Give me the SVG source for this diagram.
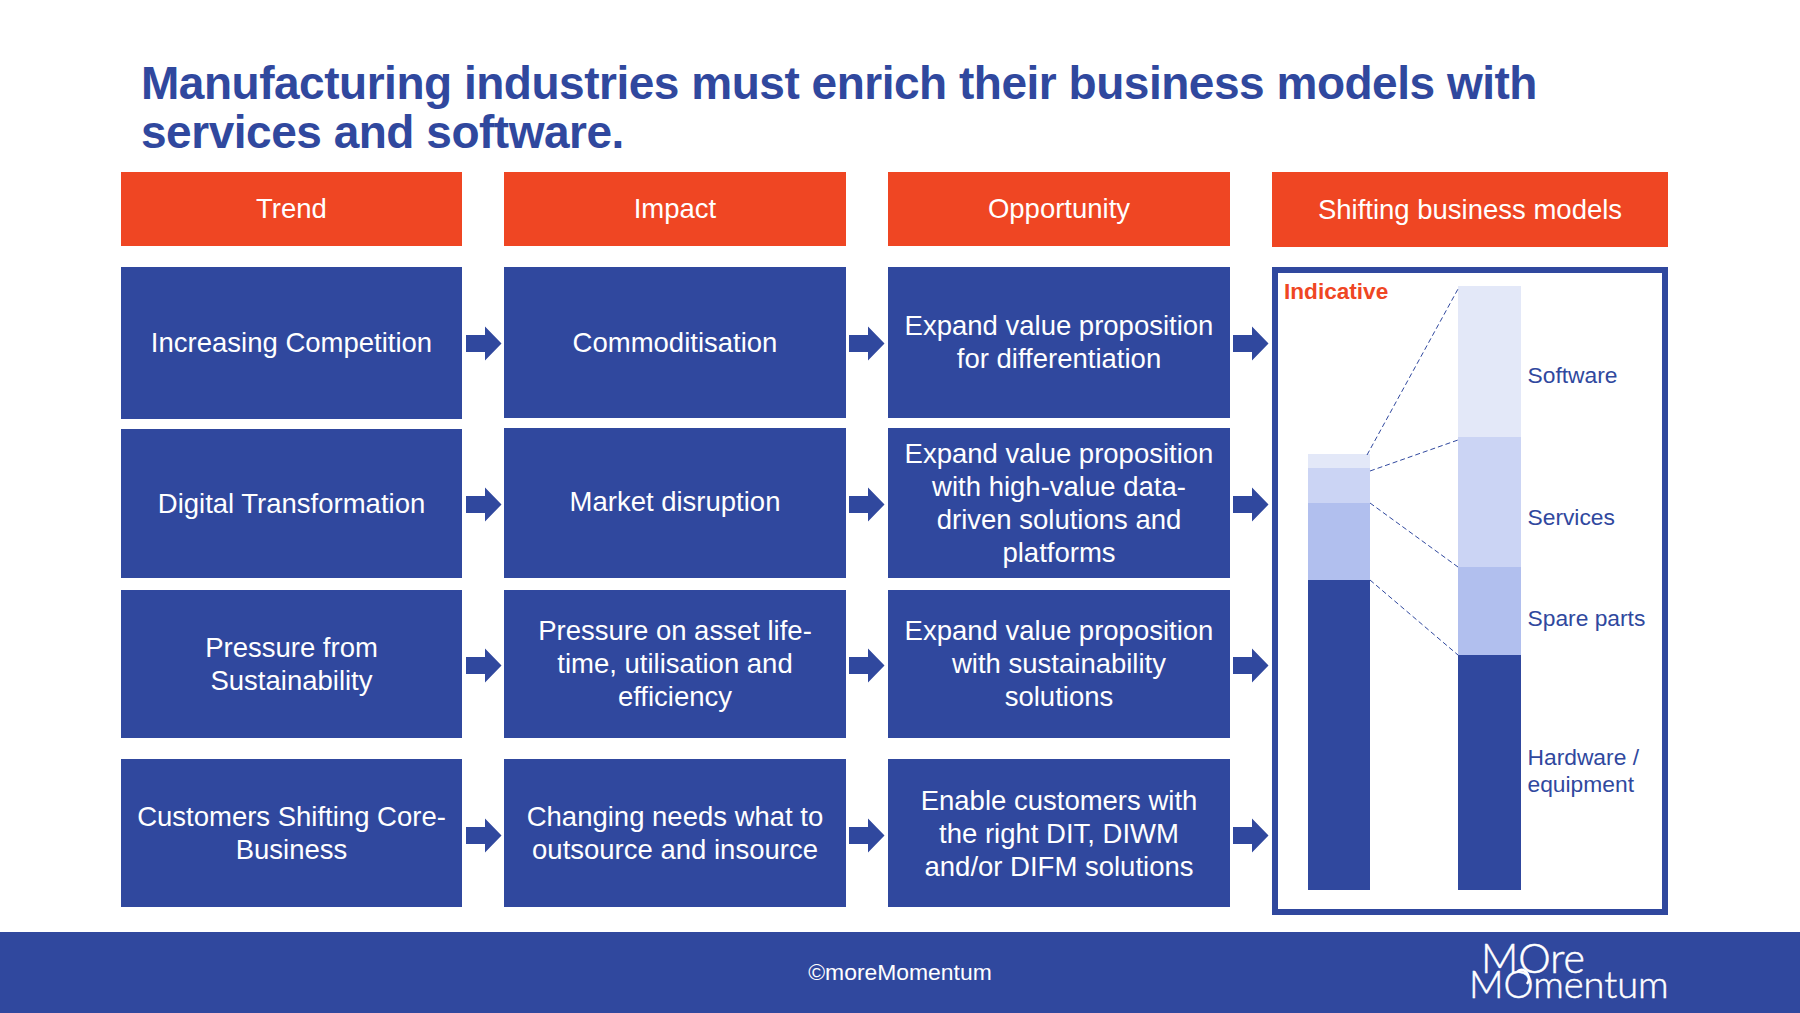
<svg xmlns="http://www.w3.org/2000/svg" width="1800" height="1013" viewBox="0 0 1800 1013">
<style>
text{font-family:"Liberation Sans",Arial,sans-serif}
.h{fill:#ef4623}.b{fill:#30489e}
.t{fill:#fff;font-size:27.5px;text-anchor:middle}
.l{fill:#30489e;font-size:22.8px}
.d{fill:none;stroke:#30489e;stroke-width:1;stroke-dasharray:5 3}
</style>
<defs><path id="a" d="M0 -8.500H19V-17L35.500 0L19 17V8.500H0Z" fill="#30489e"/></defs>
<rect width="1800" height="1013" fill="#fff"/>
<text font-size="46" font-weight="700" fill="#30489e" letter-spacing="-.48"><tspan x="141" y="99">Manufacturing industries must enrich their business models with</tspan><tspan x="141" y="148">services and software.</tspan></text>
<g id="h1"><rect class="h" x="121" y="172" width="341" height="74"/><text class="t" x="291.500" y="218">Trend</text></g>
<g id="h2"><rect class="h" x="504" y="172" width="342" height="74"/><text class="t" x="675" y="218">Impact</text></g>
<g id="h3"><rect class="h" x="888" y="172" width="342" height="74"/><text class="t" x="1059" y="218">Opportunity</text></g>
<g id="h4"><rect class="h" x="1272" y="172" width="396" height="75"/><text class="t" x="1470" y="219">Shifting business models</text></g>
<g id="r1c1"><rect class="b" x="121" y="267" width="341" height="152"/><text class="t" x="291.500" y="352">Increasing Competition</text></g>
<g id="r2c1"><rect class="b" x="121" y="429" width="341" height="149"/><text class="t" x="291.500" y="513">Digital Transformation</text></g>
<g id="r3c1"><rect class="b" x="121" y="590" width="341" height="148"/><text class="t"><tspan x="291.500" y="657">Pressure from</tspan><tspan x="291.500" y="690">Sustainability</tspan></text></g>
<g id="r4c1"><rect class="b" x="121" y="759" width="341" height="148"/><text class="t"><tspan x="291.500" y="826">Customers Shifting Core-</tspan><tspan x="291.500" y="859">Business</tspan></text></g>
<g id="r1c2"><rect class="b" x="504" y="267" width="342" height="151"/><text class="t" x="675" y="352">Commoditisation</text></g>
<g id="r2c2"><rect class="b" x="504" y="428" width="342" height="150"/><text class="t" x="675" y="511">Market disruption</text></g>
<g id="r3c2"><rect class="b" x="504" y="590" width="342" height="148"/><text class="t"><tspan x="675" y="640">Pressure on asset life-</tspan><tspan x="675" y="673">time, utilisation and</tspan><tspan x="675" y="706">efficiency</tspan></text></g>
<g id="r4c2"><rect class="b" x="504" y="759" width="342" height="148"/><text class="t"><tspan x="675" y="826">Changing needs what to</tspan><tspan x="675" y="859">outsource and insource</tspan></text></g>
<g id="r1c3"><rect class="b" x="888" y="267" width="342" height="151"/><text class="t"><tspan x="1059" y="335">Expand value proposition</tspan><tspan x="1059" y="368">for differentiation</tspan></text></g>
<g id="r2c3"><rect class="b" x="888" y="428" width="342" height="150"/><text class="t"><tspan x="1059" y="463">Expand value proposition</tspan><tspan x="1059" y="496">with high-value data-</tspan><tspan x="1059" y="529">driven solutions and</tspan><tspan x="1059" y="562">platforms</tspan></text></g>
<g id="r3c3"><rect class="b" x="888" y="590" width="342" height="148"/><text class="t"><tspan x="1059" y="640">Expand value proposition</tspan><tspan x="1059" y="673">with sustainability</tspan><tspan x="1059" y="706">solutions</tspan></text></g>
<g id="r4c3"><rect class="b" x="888" y="759" width="342" height="148"/><text class="t"><tspan x="1059" y="810">Enable customers with</tspan><tspan x="1059" y="843">the right DIT, DIWM</tspan><tspan x="1059" y="876">and/or DIFM solutions</tspan></text></g>
<g id="panel"><rect x="1275" y="270" width="390" height="642" fill="#fff" stroke="#30489e" stroke-width="6"/>
<text x="1284" y="299" font-size="22.6" font-weight="700" fill="#ef4623">Indicative</text></g>
<g id="bar-left"><rect x="1308" y="454" width="62" height="14" fill="#e3e8f8"/><rect x="1308" y="468" width="62" height="35" fill="#cbd4f4"/><rect x="1308" y="503" width="62" height="77" fill="#b1bfee"/><rect class="b" x="1308" y="580" width="62" height="310"/></g>
<g id="bar-right"><rect x="1458" y="286" width="63" height="151" fill="#e3e8f8"/><rect x="1458" y="437" width="63" height="130" fill="#cbd4f4"/><rect x="1458" y="567" width="63" height="88" fill="#b1bfee"/><rect class="b" x="1458" y="655" width="63" height="235"/></g>
<g id="connectors">
<use href="#a" x="466" y="343.500"/><use href="#a" x="849" y="343.500"/><use href="#a" x="1233" y="343.500"/>
<use href="#a" x="466" y="504.500"/><use href="#a" x="849" y="504.500"/><use href="#a" x="1233" y="504.500"/>
<use href="#a" x="466" y="665.500"/><use href="#a" x="849" y="665.500"/><use href="#a" x="1233" y="665.500"/>
<use href="#a" x="466" y="835.500"/><use href="#a" x="849" y="835.500"/><use href="#a" x="1233" y="835.500"/>
<path class="d" d="M1367 455L1458 289M1370 471L1458 440M1370 503L1458 567M1370 580L1458 655"/>
</g>
<g id="labels"><text class="l" x="1527.500" y="383">Software</text><text class="l" x="1527.500" y="525">Services</text><text class="l" x="1527.500" y="626">Spare parts</text><text class="l"><tspan x="1527.500" y="765">Hardware /</tspan><tspan x="1527.500" y="792">equipment</tspan></text></g>
<g id="footer"><rect class="b" y="932" width="1800" height="81"/><text x="900" y="980" font-size="22.9" fill="#fff" text-anchor="middle">©moreMomentum</text>
<text fill="#fff" stroke="#fff" stroke-width=".5" style="font-family:Lato,'Liberation Sans',sans-serif;font-weight:300"><tspan x="1481" y="973" font-size="41">MOre</tspan><tspan x="1469" y="998" font-size="38">MOmentum</tspan></text>
<path d="M1517 972C1523 965 1533 976 1527 984" fill="none" stroke="#fff" stroke-width="2.500"/></g>
</svg>
